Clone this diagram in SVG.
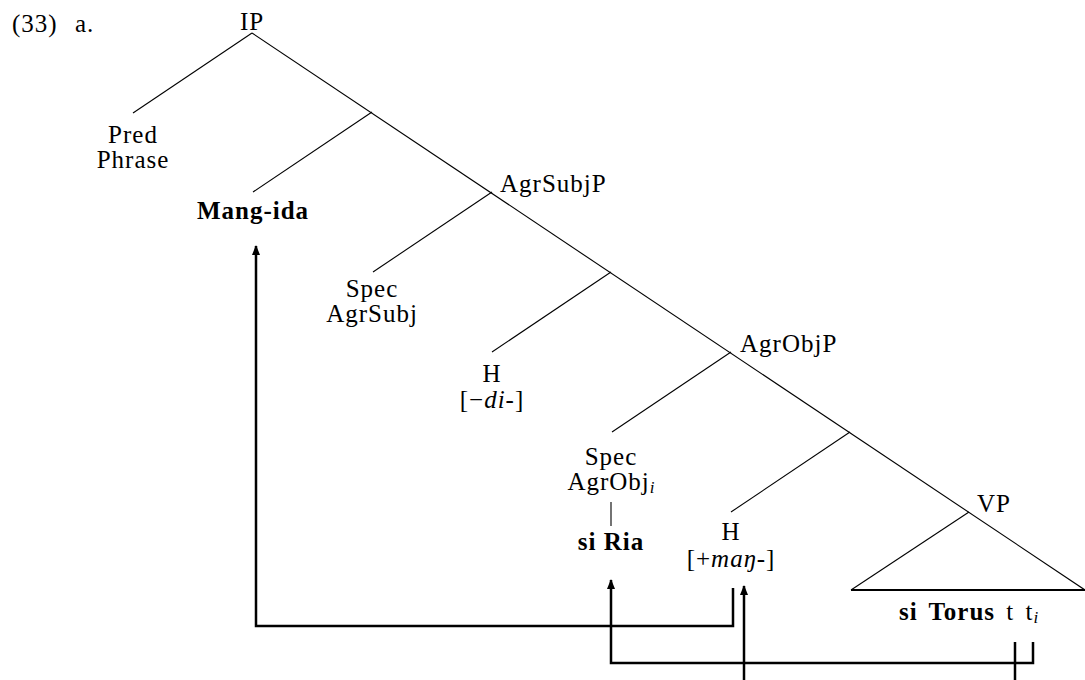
<svg xmlns="http://www.w3.org/2000/svg" width="1085" height="680" viewBox="0 0 1085 680">
<defs>
<style>
text{font-family:"Liberation Serif","Times New Roman",serif;font-size:25px;letter-spacing:1px;fill:#000}
.m{text-anchor:middle}
.b{font-weight:bold}
.it{font-style:italic}
.sub{font-size:17px;font-style:italic;letter-spacing:0}
.tree{stroke:#000;stroke-width:1.1;fill:none}
.arr{stroke:#000;stroke-width:2.5;fill:none}
</style>
<marker id="ah" viewBox="0 0 10 10" refX="9" refY="5" markerWidth="4" markerHeight="4" orient="auto" markerUnits="strokeWidth">
<path d="M0,1 L10,5 L0,9 z" fill="#000"/>
</marker>
</defs>
<rect width="1085" height="680" fill="#fff"/>
<text x="12" y="32">(33)</text>
<text x="75" y="32">a.</text>
<g id="connectors">
<path class="tree" d="M252,33 L1088,592"/>
<path class="tree" d="M252,33 L133,113"/>
<path class="tree" d="M372,112 L253,192"/>
<path class="tree" d="M492,192 L373,272"/>
<path class="tree" d="M611,272 L492,352"/>
<path class="tree" d="M731,352 L612,432"/>
<path class="tree" d="M850,432 L731,512"/>
<path class="tree" d="M969,512 L851,590"/>
<path stroke="#000" stroke-width="2" d="M851,590 H1090"/>
<path class="tree" d="M611,502 V526"/>
<path class="arr" d="M733,588 V626 H256 V246" marker-end="url(#ah)"/>
<path class="arr" d="M1033,642 V663 H611 V580" marker-end="url(#ah)"/>
<path class="arr" d="M1015,642 V690"/>
<path class="arr" d="M744,690 V586" marker-end="url(#ah)"/>
</g>
<g id="n-ip"><text class="m" x="252" y="30">IP</text></g>
<g id="n-pred"><text class="m" x="133" y="143">Pred</text><text class="m" x="133" y="168">Phrase</text></g>
<g id="n-mangida"><text class="m b" x="253" y="219">Mang-ida</text></g>
<g id="n-agrsubjp"><text x="500" y="192">AgrSubjP</text></g>
<g id="n-specagrsubj"><text class="m" x="372" y="297">Spec</text><text class="m" x="372" y="322">AgrSubj</text></g>
<g id="n-h1"><text class="m" x="492" y="382">H</text><text class="m" x="492" y="408">[−<tspan class="it">di</tspan>-]</text></g>
<g id="n-agrobjp"><text x="740" y="352">AgrObjP</text></g>
<g id="n-specagrobj"><text class="m" x="611" y="465">Spec</text><text class="m" x="611" y="490">AgrObj<tspan class="sub" dy="3">i</tspan></text><text class="m b" x="611" y="550">si Ria</text></g>
<g id="n-h2"><text class="m" x="731" y="540">H</text><text class="m" x="731" y="567">[+<tspan class="it">maŋ</tspan>-]</text></g>
<g id="n-vp"><text x="977" y="512">VP</text></g>
<g id="n-vpcontent"><text x="899" y="620" word-spacing="4"><tspan class="b">si Torus</tspan> t t<tspan class="sub" dy="3">i</tspan></text></g>
</svg>
